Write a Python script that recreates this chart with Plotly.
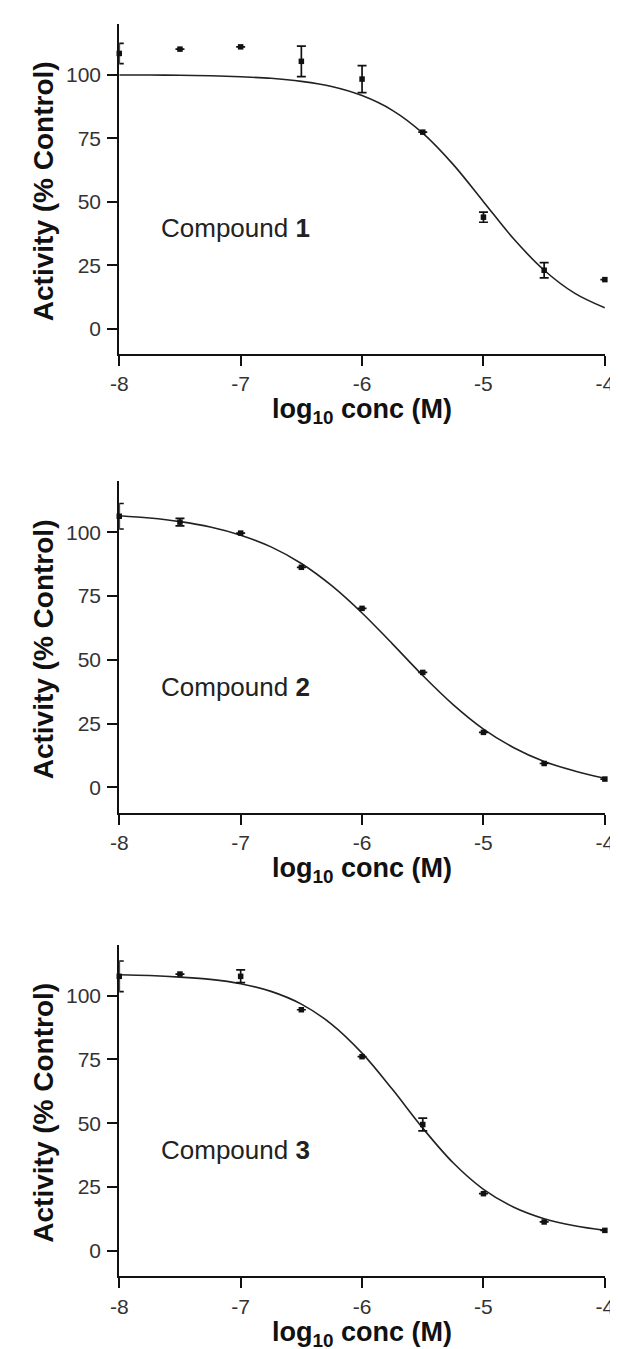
import plotly.graph_objects as go

NAN = float("nan")

# ---- data ----
conc = [-8, -7.5, -7, -6.5, -6, -5.5, -5, -4.5, -4]

act1 = [108.4, 110.1, 111.0, 105.3, 98.3, 77.4, 43.9, 23.0, 19.3]
err1 = [4.0, NAN, NAN, 6.0, 5.3, NAN, 2.0, 3.0, NAN]

act2 = [106.3, 104.0, 99.7, 86.3, 70.2, 45.1, 21.6, 9.4, 3.3]
err2 = [5.0, 1.5, NAN, NAN, NAN, NAN, NAN, NAN, NAN]

act3 = [107.6, 108.5, 107.6, 94.5, 76.1, 49.5, 22.4, 11.3, 8.0]
err3 = [6.0, NAN, 2.5, NAN, NAN, 2.5, NAN, NAN, NAN]

# fitted curves at 0.25 log-unit steps
curve_x = [-8, -7.75, -7.5, -7.25, -7, -6.75, -6.5, -6.25, -6,
           -5.75, -5.5, -5.25, -5, -4.75, -4.5, -4.25, -4]
curve1 = [99.9, 99.9, 99.8, 99.6, 99.2, 98.6, 97.4, 95.4, 91.8,
          86.0, 77.0, 64.7, 50.0, 35.3, 23.0, 14.0, 8.2]
curve2 = [106.5, 105.6, 104.2, 102.1, 98.9, 94.3, 87.8, 79.1, 68.4,
          56.3, 43.9, 32.5, 22.9, 15.6, 10.2, 6.5, 3.6]
curve3 = [108.2, 107.9, 107.3, 106.4, 104.7, 101.7, 96.7, 88.8, 77.5,
          63.3, 48.1, 34.5, 24.1, 17.1, 12.6, 9.8, 8.0]

compound_labels = ["Compound <b>1</b>", "Compound <b>2</b>", "Compound <b>3</b>"]
x_ticks = [-8, -7, -6, -5, -4]
x_ticktext = ["-8", "-7", "-6", "-5", "-4"]
y_ticks = [0, 25, 50, 75, 100]
y_ticktext = ["0", "25", "50", "75", "100"]

# ---- layout geometry (pixels) ----
W, H = 618, 1349
x_left, x_right = 105.5, 606.5
panels_px = [(16, 346), (473.3, 805), (936.7, 1268.3)]  # (top, bottom)

FONT = "Arial, Liberation Sans, Helvetica, sans-serif"

fig = go.Figure()
series = [(act1, err1, curve1), (act2, err2, curve2), (act3, err3, curve3)]

layout = dict(
    width=W, height=H,
    margin=dict(l=0, r=0, t=0, b=0),
    paper_bgcolor="white", plot_bgcolor="white",
    showlegend=False,
    annotations=[],
)

for i, (act, err, curve) in enumerate(series):
    n = i + 1
    xa = "x" if n == 1 else f"x{n}"
    ya = "y" if n == 1 else f"y{n}"
    fig.add_trace(go.Scatter(
        x=curve_x, y=curve, mode="lines", xaxis=xa, yaxis=ya,
        line=dict(color="#222", width=1.6, shape="spline", smoothing=1.0),
        hoverinfo="skip", cliponaxis=False,
    ))
    fig.add_trace(go.Scatter(
        x=conc, y=act, mode="markers", xaxis=xa, yaxis=ya,
        marker=dict(symbol="square", size=5.5, color="#111"),
        error_y=dict(type="data", array=err, visible=True,
                     color="#111", thickness=1.7, width=4.5),
        cliponaxis=False,
    ))
    top, bot = panels_px[i]
    dom_y = [1 - bot / H, 1 - top / H]
    axis_common = dict(
        showline=True, linecolor="#111", linewidth=2,
        ticks="outside", ticklen=10, tickwidth=2, tickcolor="#111",
        showgrid=False, zeroline=False,
        tickfont=dict(family=FONT, size=21, color="#333"),
    )
    layout["xaxis" if n == 1 else f"xaxis{n}"] = dict(
        axis_common, domain=[x_left / W, x_right / W], anchor=ya,
        range=[-8, -4], tickvals=x_ticks, ticktext=x_ticktext,
        ticklabelstandoff=0,
    )
    layout["yaxis" if n == 1 else f"yaxis{n}"] = dict(
        axis_common, domain=dom_y, anchor=xa,
        range=[-10, 120], tickvals=y_ticks, ticktext=y_ticktext,
        ticklabelstandoff=2,
    )
    # compound label
    layout["annotations"].append(dict(
        xref=xa, yref=ya, x=-7.67, y=39.5, xanchor="left", yanchor="middle",
        text=compound_labels[i], showarrow=False,
        font=dict(family=FONT, size=26, color="#222"),
    ))
    # y title
    layout["annotations"].append(dict(
        xref="paper", yref="paper", x=27.0 / W, y=1 - ((top + bot) / 2 + 2) / H,
        xanchor="center", yanchor="middle", textangle=-90,
        text="<b>Activity (% Control)</b>", showarrow=False,
        font=dict(family=FONT, size=28, color="#111"),
    ))
    # x title
    layout["annotations"].append(dict(
        xref="paper", yref="paper", x=(x_left + x_right) / 2 / W, y=1 - (bot + 57.2) / H,
        xanchor="center", yanchor="middle", borderpad=0,
        text="<b>log<sub>10</sub> conc (M)</b>", showarrow=False,
        font=dict(family=FONT, size=27, color="#111"),
    ))

fig.update_layout(**layout)
fig.write_html("out.html")
